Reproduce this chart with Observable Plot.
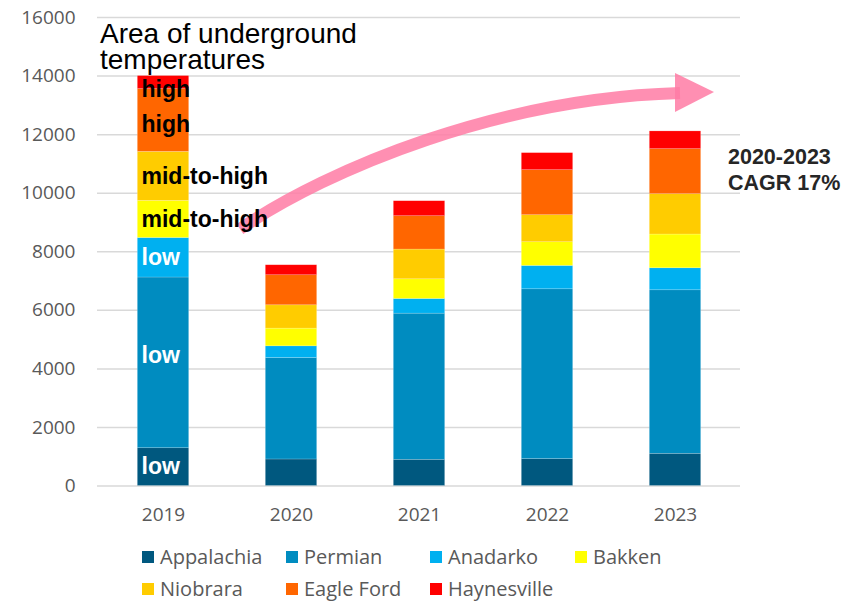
<!DOCTYPE html>
<html>
<head>
<meta charset="utf-8">
<script src="https://cdn.jsdelivr.net/npm/d3@7"></script>
<script src="https://cdn.jsdelivr.net/npm/@observablehq/plot@0.6"></script>
<style>
  html, body { margin: 0; padding: 0; background: #fff; }
  #wrap { position: relative; width: 841px; height: 602px; overflow: hidden; }
  #chart svg { display: block; }
  .title { position: absolute; left: 100px; top: 21px; font-family: "Liberation Sans", Arial, sans-serif; font-size: 28px; line-height: 26px; color: #000; }
  .cagr { position: absolute; left: 728px; top: 144px; font-family: "Liberation Sans", Arial, sans-serif; font-weight: bold; font-size: 21.5px; line-height: 26px; color: #262626; white-space: nowrap; }
  .legend { position: absolute; left: 142px; top: 545px; display: grid; grid-template-columns: 144px 144px 145px 145px; row-gap: 8px; font-family: "Open Sans", sans-serif; font-size: 20px; line-height: 24px; color: #595959; }
  .legend .item { display: flex; align-items: center; height: 24px; white-space: nowrap; }
  .legend .sw { width: 12px; height: 12px; margin-right: 6px; flex: none; }
</style>
</head>
<body>
<div id="wrap">
  <div id="chart"></div>
  <div class="title">Area of underground<br>temperatures</div>
  <div class="cagr">2020-2023<br>CAGR 17%</div>
  <div class="legend" id="legend"></div>
</div>
<script>
const years = ["2019", "2020", "2021", "2022", "2023"];
const series = ["Appalachia", "Permian", "Anadarko", "Bakken", "Niobrara", "Eagle Ford", "Haynesville"];
const colors = ["#00587f", "#008cc0", "#00b0f0", "#ffff00", "#ffcc00", "#ff6600", "#ff0000"];
const appalachia = [1290, 906, 895, 918, 1100];
const permian = [5830, 3464, 4991, 5800, 5584];
const anadarko = [1350, 400, 501, 798, 752];
const bakken = [1265, 605, 673, 809, 1152];
const niobrara = [1675, 797, 1015, 923, 1378];
const eagleFord = [2145, 1026, 1139, 1538, 1538];
const haynesville = [445, 341, 512, 582, 606];
const yTicks = [0, 2000, 4000, 6000, 8000, 10000, 12000, 14000, 16000];
const labels2019 = ["low", "low", "low", "mid-to-high", "mid-to-high", "high", "high"];

const valuesBySeries = [appalachia, permian, anadarko, bakken, niobrara, eagleFord, haynesville];
const data = [];
series.forEach((s, i) => years.forEach((y, j) => data.push({year: y, series: s, value: valuesBySeries[i][j], label: j === 0 ? labels2019[i] : null})));

const stackOpts = {x: "year", y: "value", z: "series", order: series};
const labelFont = {fontFamily: "Liberation Sans, Arial, sans-serif", fontWeight: "bold", fontSize: 23, textAnchor: "start", dx: -22};
const labelFor = (names) => d => d.label && names.includes(d.series) ? d.label : null;

const arrow = () => {
  const g = d3.create("svg:g");
  g.append("path")
    .attr("d", "M240,229 C330,168 500,98 680,93")
    .attr("fill", "none").attr("stroke", "#ff7ba4").attr("stroke-width", 12).attr("stroke-opacity", 0.85);
  g.append("path")
    .attr("d", "M675,73 L675,112 L714,92 Z")
    .attr("fill", "#ff7ba4").attr("fill-opacity", 0.85);
  return g.node();
};

const chart = Plot.plot({
  width: 841,
  height: 535,
  marginTop: 17,
  marginBottom: 49.5,
  marginLeft: 97,
  marginRight: 101,
  style: {fontFamily: "Open Sans, sans-serif", fontSize: "19px", color: "#595959", background: "white"},
  x: {domain: years, padding: 0, label: null, tickSize: 0, tickPadding: 21},
  y: {domain: [0, 16000], ticks: yTicks, tickFormat: "d", tickSize: 0, tickPadding: 22, label: null},
  color: {domain: series, range: colors},
  marks: [
    Plot.ruleY(yTicks, {stroke: "#d9d9d9", strokeWidth: 1.5}),
    Plot.barY(data, Plot.stackY({...stackOpts, fill: "series", insetLeft: 38.3, insetRight: 38.3, stroke: "white", strokeOpacity: 0.3, strokeWidth: 0.6})),
    arrow,
    Plot.text(data, Plot.stackY({...stackOpts, text: labelFor(["Appalachia", "Anadarko"]), fill: "white", ...labelFont})),
    Plot.text(data, Plot.stackY({...stackOpts, text: labelFor(["Permian"]), fill: "white", ...labelFont, dy: -7})),
    Plot.text(data, Plot.stackY({...stackOpts, text: labelFor(["Bakken", "Niobrara"]), fill: "black", ...labelFont})),
    Plot.text(data, Plot.stackY({...stackOpts, text: labelFor(["Eagle Ford"]), fill: "black", ...labelFont, dy: 4})),
    Plot.text(data, Plot.stackY({...stackOpts, text: labelFor(["Haynesville"]), fill: "black", ...labelFont, dy: 7}))
  ]
});
document.getElementById("chart").appendChild(chart);

const legend = document.getElementById("legend");
series.forEach((s, i) => {
  const item = document.createElement("div");
  item.className = "item";
  const sw = document.createElement("span");
  sw.className = "sw";
  sw.style.background = colors[i];
  item.appendChild(sw);
  item.appendChild(document.createTextNode(s));
  legend.appendChild(item);
});
</script>
</body>
</html>
